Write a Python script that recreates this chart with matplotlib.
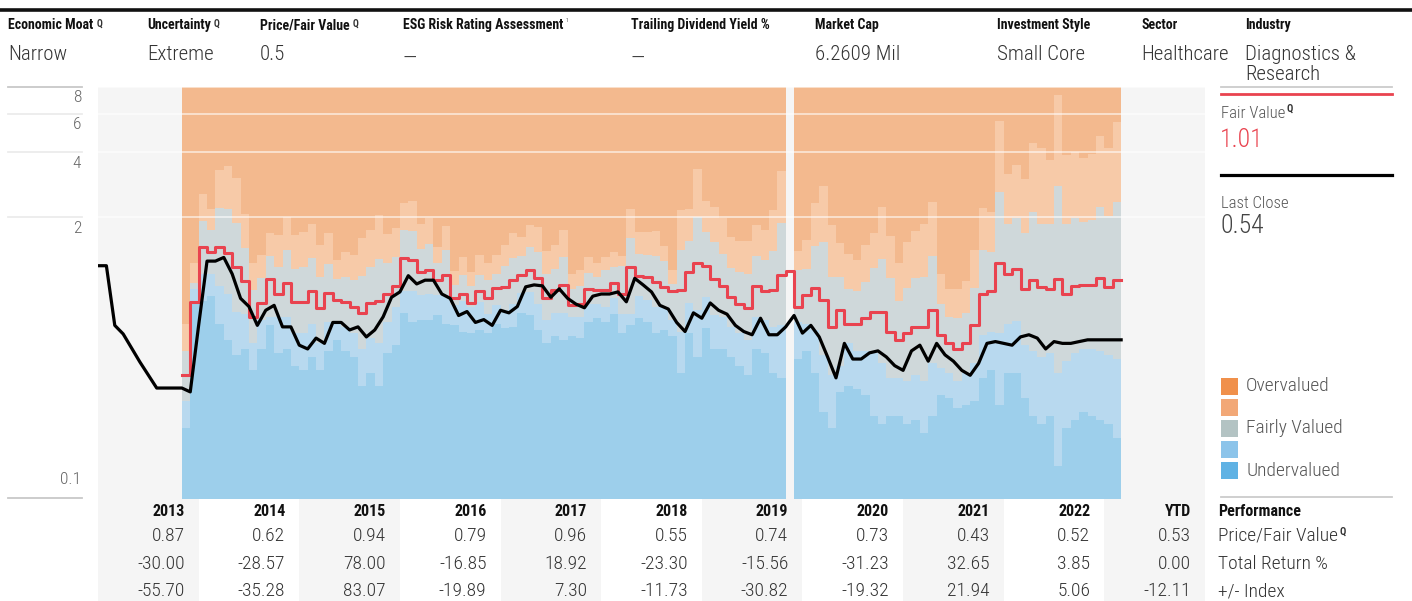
import numpy as np
import matplotlib
matplotlib.use("Agg")
import matplotlib.pyplot as plt
from matplotlib import font_manager as fm
from matplotlib.lines import Line2D
from matplotlib.patches import Rectangle
from matplotlib.transforms import blended_transform_factory, offset_copy

W, H = 1412, 601

names = {f.name for f in fm.fontManager.ttflist}
FONT = next((n for n in ["Roboto Condensed", "Liberation Sans Narrow", "DejaVu Sans"] if n in names), "DejaVu Sans")
plt.rcParams["font.family"] = [FONT, "DejaVu Sans"]
LIGHT = "light"

# monthly closing price, Jan 2013 .. Mar 2023 (month boundaries)
price = [1.19, 1.19, 0.63, 0.575, 0.495, 0.426, 0.371, 0.323, 0.323, 0.323,
         0.323, 0.31, 0.63, 1.25, 1.25, 1.30, 1.09, 0.84, 0.77, 0.63,
         0.74, 0.78, 0.62, 0.62, 0.51, 0.49, 0.55, 0.52, 0.65, 0.65,
         0.60, 0.62, 0.557, 0.60, 0.69, 0.85, 0.90, 1.07, 0.98, 1.02,
         1.02, 0.88, 0.84, 0.70, 0.73, 0.65, 0.67, 0.63, 0.74, 0.72,
         0.77, 0.95, 0.97, 0.96, 0.85, 0.93, 0.84, 0.79, 0.76, 0.86,
         0.88, 0.88, 0.90, 0.81, 1.04, 0.97, 0.90, 0.78, 0.75, 0.65,
         0.59, 0.72, 0.68, 0.80, 0.74, 0.71, 0.63, 0.59, 0.57, 0.68,
         0.57, 0.57, 0.62, 0.70, 0.58, 0.63, 0.557, 0.45, 0.36, 0.52,
         0.44, 0.44, 0.47, 0.48, 0.45, 0.41, 0.39, 0.48, 0.51, 0.43,
         0.52, 0.46, 0.43, 0.39, 0.37, 0.42, 0.52, 0.53, 0.52, 0.51,
         0.557, 0.57, 0.55, 0.49, 0.53, 0.52, 0.52, 0.53, 0.54, 0.54,
         0.54, 0.54, 0.54]

# monthly fair value, Nov 2013 .. Feb 2023
fair_value = [0.37, 0.81, 1.45, 1.38, 1.45, 1.37, 1.17, 1.01, 0.69, 0.80,
              1.03, 0.88, 0.99, 0.81, 0.81, 0.91, 0.76, 0.89, 0.83, 0.81,
              0.77, 0.72, 0.80, 0.82, 0.88, 0.96, 1.29, 1.26, 1.11, 1.14,
              1.02, 1.08, 0.84, 0.88, 0.80, 0.91, 0.84, 0.94, 0.95, 1.02,
              1.08, 1.14, 1.04, 0.84, 0.92, 0.97, 0.78, 0.79, 0.93, 0.92,
              0.92, 0.99, 0.88, 1.17, 1.07, 1.06, 1.00, 0.95, 0.91, 0.92,
              1.11, 1.23, 1.19, 1.03, 0.96, 0.85, 0.79, 0.76, 0.96, 0.91,
              0.92, 1.08, 1.13, 0.77, 0.87, 0.94, 0.83, 0.62, 0.74, 0.64,
              0.64, 0.68, 0.73, 0.73, 0.59, 0.54, 0.58, 0.62, 0.62, 0.74,
              0.57, 0.52, 0.49, 0.52, 0.63, 0.88, 0.91, 1.23, 1.09, 1.15,
              0.93, 1.02, 0.95, 0.93, 1.03, 0.88, 0.96, 0.97, 0.97, 1.04,
              0.95, 1.02]

nan = np.nan
# upper edges of the valuation bands, Nov 2013 .. Feb 2023
under_top = [.21, .80, .82, .86, .64, .54, .46, .49, .39, .49,
             .63, .47, .49, .41, .39, .45, .39, .48, .54, .48,
             .45, .33, .38, .33, .47, .51, .72, .65, .67, .67,
             .70, .64, .63, .59, .58, .60, .58, .64, .61, .62,
             .72, .70, .60, .52, .56, .54, .56, .55, .65, .68,
             .65, .71, .58, .63, .68, .65, .58, .60, .56, .38,
             .58, .45, .61, .49, .49, .45, .41, .37, .49, .47,
             .38, .36, nan, .44, .48, .38, .25, .21, .31, .33,
             .32, .30, .24, .22, .24, .24, .22, .23, .20, .24,
             .30, .29, .26, .27, .28, .36, .39, .27, .38, .38,
             .29, .24, .22, .24, .14, .21, .23, .25, .24, .23,
             .22, .19]
lowband_top = [.28, .93, 1.09, 1.09, .96, .88, .73, .71, .52, .67,
               .69, .69, .69, .58, .58, .64, .52, .65, .65, .62,
               .58, .49, .55, .52, .65, .77, .91, .91, .87, .88,
               .87, .86, .78, .82, .77, .81, .71, .78, .74, .79,
               .89, .90, .79, .67, .72, .72, .69, .69, .79, .79,
               .77, .84, .71, .71, .86, .83, .77, .77, .67, .59,
               .80, .74, .85, .70, .69, .62, .58, .54, .69, .67,
               .62, .63, nan, .65, .64, .60, .46, .37, .41, .52,
               .48, .48, .47, .42, .36, .36, .35, .37, .35, .42,
               .40, .38, .35, .38, .42, .57, .59, .58, .64, .66,
               .51, .48, .45, .47, .38, .43, .47, .49, .49, .48,
               .46, .44]
fair_top = [.48, .99, 1.92, 1.75, 2.21, 2.19, 1.88, 1.44, .92, 1.04,
            1.32, 1.18, 1.40, 1.15, 1.17, 1.29, 1.06, 1.21, 1.03, 1.06,
            1.02, 1.07, 1.17, 1.28, 1.22, 1.31, 1.74, 1.72, 1.42, 1.50,
            1.22, 1.40, .97, 1.08, .96, 1.08, 1.02, 1.09, 1.19, 1.29,
            1.32, 1.45, 1.38, 1.09, 1.15, 1.31, .93, .96, 1.10, 1.06,
            1.14, 1.17, 1.19, 1.60, 1.35, 1.34, 1.32, 1.25, .98, 1.40,
            1.55, 2.00, 1.70, 1.53, 1.35, 1.16, 1.11, 1.09, 1.32, 1.26,
            1.39, 1.88, nan, 1.14, 1.15, 1.47, 1.54, 1.06, 1.05, .93,
            .91, 1.00, 1.16, 1.28, 1.04, .82, .94, 1.04, 1.06, 1.32,
            .79, .69, .68, .72, .94, 1.40, 1.38, 2.61, 1.86, 1.98,
            1.68, 2.11, 1.86, 1.85, 2.78, 1.85, 1.97, 1.90, 1.93, 2.23,
            2.02, 2.35]
over_low = [.64, 1.22, 2.55, 2.19, 3.29, 3.43, 3.04, 2.07, 1.22, 1.33,
            1.69, 1.65, 1.99, 1.65, 1.71, 1.86, 1.48, 1.68, 1.27, 1.38,
            1.33, 1.60, 1.74, 2.04, 1.66, 1.78, 2.32, 2.37, 1.85, 1.97,
            1.45, 1.81, 1.13, 1.31, 1.11, 1.33, 1.23, 1.33, 1.49, 1.68,
            1.62, 1.84, 1.80, 1.39, 1.48, 1.75, 1.09, 1.14, 1.31, 1.23,
            1.31, 1.38, 1.32, 2.17, 1.70, 1.71, 1.72, 1.47, 1.14, 2.15,
            2.17, 3.32, 2.37, 2.23, 1.98, 1.61, 1.55, 1.55, 1.83, 1.75,
            2.15, 3.27, nan, 1.39, 1.56, 2.32, 2.78, 1.84, 1.51, 1.35,
            1.27, 1.48, 1.68, 2.23, 1.64, 1.23, 1.54, 1.72, 1.86, 2.35,
            1.09, .93, .93, 1.01, 1.40, 2.20, 2.11, 5.59, 3.18, 3.47,
            3.01, 4.40, 4.18, 3.66, 7.32, 3.86, 4.00, 3.75, 3.93, 4.72,
            4.18, 5.51]

years = ["2013", "2014", "2015", "2016", "2017", "2018", "2019", "2020", "2021", "2022", "YTD"]
price_fv = [0.87, 0.62, 0.94, 0.79, 0.96, 0.55, 0.74, 0.73, 0.43, 0.52, 0.53]
total_return = [-30.00, -28.57, 78.00, -16.85, 18.92, -23.30, -15.56, -31.23, 32.65, 3.85, 0.00]
vs_index = [-55.70, -35.28, 83.07, -19.89, 7.30, -11.73, -30.82, -19.32, 21.94, 5.06, -12.11]

header_labels = ["Economic Moat", "Uncertainty", "Price/Fair Value", "ESG Risk Rating Assessment",
                 "Trailing Dividend Yield %", "Market Cap", "Investment Style", "Sector", "Industry"]
header_values = ["Narrow", "Extreme", "0.5", "—", "—", "6.2609 Mil", "Small Core", "Healthcare",
                 "Diagnostics &\nResearch"]
header_x = [8, 147, 260, 403, 631, 815, 997, 1141, 1245]

band_colors = ["#9dcfeb", "#b8d9ef", "#cfd8da", "#f7caa8", "#f3b98e"]
legend_colors = ["#f0904b", "#f2a877", "#b3c3c3", "#8cc4ea", "#5fb2e4"]
legend_labels = ["Overvalued", "", "Fairly Valued", "", "Undervalued"]
RED = "#e9434f"

fig = plt.figure(figsize=(W / 100, H / 100), dpi=100)
fig.patch.set_facecolor("white")


def fx(x):
    return x / W


def fy(y):
    return 1 - y / H


# table column shading (behind everything)
col_w = (1205 - 98) / 11
for k in range(11):
    if k % 2 == 0:
        fig.add_artist(Rectangle((fx(98 + k * col_w), 0), col_w / W, fy(498), color="#f5f5f5", lw=0, zorder=0))

ax = fig.add_axes([fx(98), fy(498), (1205 - 98) / W, (498 - 87) / H])
ax.set_facecolor("#f5f5f5")
ax.set_yscale("log")
for s in ax.spines.values():
    s.set_visible(False)
ax.tick_params(which="both", left=False, bottom=False, labelleft=False, labelbottom=False)

months = np.arange(10, 122)
layers = [np.full(len(months), 0.05), np.array(under_top), np.array(lowband_top),
          np.array(fair_top), np.array(over_low), np.full(len(months), 20.0)]
ok = ~np.isnan(layers[1])
seg_start = 0
segments = []
for i in range(len(months) + 1):
    if i == len(months) or not ok[i]:
        if i > seg_start:
            segments.append((seg_start, i))
        seg_start = i + 1
for a, b in segments:
    x = np.append(months[a:b], months[b - 1] + 1)
    for k in range(5):
        lo = np.append(layers[k][a:b], layers[k][b - 1])
        hi = np.append(layers[k + 1][a:b], layers[k + 1][b - 1])
        ax.fill_between(x, lo, hi, step="post", color=band_colors[k], lw=0)

for v in [8, 6, 4, 2]:
    ax.axhline(v, color="white", lw=1.3, alpha=0.6)

fv_x = np.append(months, 122)
fv_y = np.append(fair_value, fair_value[-1])
ax.step(fv_x, fv_y, where="post", color=RED, lw=2.2)
ax.plot(np.arange(len(price)), price, color="black", lw=2.3, solid_joinstyle="round")
ax.set_xlim(0, 132)
ax.set_ylim(0.1, 8)

# y labels in the left margin
trans = blended_transform_factory(fig.transFigure, ax.transData)
for v, c in [(8, "#c8c8c8"), (6, "#ececec"), (4, "#ececec"), (2, "#ececec"), (0.1, "#c8c8c8")]:
    fig.add_artist(Line2D([fx(8), fx(82)], [v, v], transform=trans, color=c, lw=1.3))
for v, lab in [(8, "8"), (6, "6"), (4, "4"), (2, "2")]:
    fig.text(fx(81), v, lab, transform=offset_copy(trans, fig=fig, y=-11, units="dots"),
             ha="right", va="center", fontsize=12.5, fontweight=LIGHT, color="#666666")
fig.text(fx(81), 0.1, "0.1", transform=offset_copy(trans, fig=fig, y=18, units="dots"),
         ha="right", va="center", fontsize=12.5, fontweight=LIGHT, color="#666666")

renderer = fig.canvas.get_renderer()


def q_mark(t, size=7, dx=3, dy=-1):
    bb = t.get_window_extent(renderer)
    fig.text((bb.x1 + dx) / W, (bb.y1 + dy) / H, "Q", fontsize=size, fontweight="bold",
             color="#333333", ha="left", va="top")


# header
fig.add_artist(Line2D([0, 1], [fy(10), fy(10)], color="#111111", lw=2.6))
for i, (lab, val, x) in enumerate(zip(header_labels, header_values, header_x)):
    t = fig.text(fx(x), fy(25), lab, fontsize=10, fontweight="bold", color="#111111", va="center")
    if i < 3:
        q_mark(t)
    if i == 3:
        bb = t.get_window_extent(renderer)
        fig.text((bb.x1 + 2) / W, bb.y1 / H, "1", fontsize=4, color="#555555", va="top")
    top = 50 if val == "—" else 45
    fig.text(fx(x), fy(top), val, fontsize=15, fontweight=LIGHT, color="#333333", va="top", linespacing=1.05)

# right panel
fig.add_artist(Line2D([fx(1221), fx(1392)], [fy(87), fy(87)], color="#cccccc", lw=1.3))
fig.add_artist(Line2D([fx(1221), fx(1392)], [fy(94), fy(94)], color=RED, lw=2))
t = fig.text(fx(1221), fy(113), "Fair Value", fontsize=12, fontweight=LIGHT, color="#555555", va="center")
q_mark(t, size=7.5, dx=1, dy=2)
fig.text(fx(1220), fy(140), "1.01", fontsize=18.5, fontweight=LIGHT, color=RED, va="center")
fig.add_artist(Line2D([fx(1221), fx(1392)], [fy(175), fy(175)], color="black", lw=2.3))
fig.text(fx(1221), fy(204), "Last Close", fontsize=12, fontweight=LIGHT, color="#555555", va="center")
fig.text(fx(1220), fy(226), "0.54", fontsize=18.5, fontweight=LIGHT, color="#444444", va="center")
for k, (c, lab) in enumerate(zip(legend_colors, legend_labels)):
    yc = 386 + k * 21.2
    fig.add_artist(Rectangle((fx(1221), fy(yc + 8.5)), 17 / W, 17 / H, color=c, lw=0))
    if lab:
        fig.text(fx(1246), fy(yc), lab, fontsize=14, fontweight=LIGHT, color="#555555", va="center")
fig.add_artist(Line2D([fx(1221), fx(1392)], [fy(497), fy(497)], color="#cccccc", lw=1.3))

# performance table
rows = [price_fv, total_return, vs_index]
row_y = [536, 564, 591]
for k, yr in enumerate(years):
    xr = fx(98 + (k + 1) * col_w - 14)
    fig.text(xr, fy(512), yr, fontsize=11.5, fontweight="bold", color="#111111", ha="right", va="center")
    for vals, yy in zip(rows, row_y):
        fig.text(xr, fy(yy), f"{vals[k]:.2f}", fontsize=14, fontweight=LIGHT, color="#333333",
                 ha="right", va="center")
fig.text(fx(1218), fy(512), "Performance", fontsize=11.5, fontweight="bold", color="#111111", va="center")
t = fig.text(fx(1218), fy(536), "Price/Fair Value", fontsize=14, fontweight=LIGHT, color="#333333", va="center")
q_mark(t, size=7.5, dx=2, dy=0)
fig.text(fx(1218), fy(564), "Total Return %", fontsize=14, fontweight=LIGHT, color="#333333", va="center")
fig.text(fx(1218), fy(591), "+/- Index", fontsize=14, fontweight=LIGHT, color="#333333", va="center")

fig.savefig("out.png", dpi=100, facecolor="white")
